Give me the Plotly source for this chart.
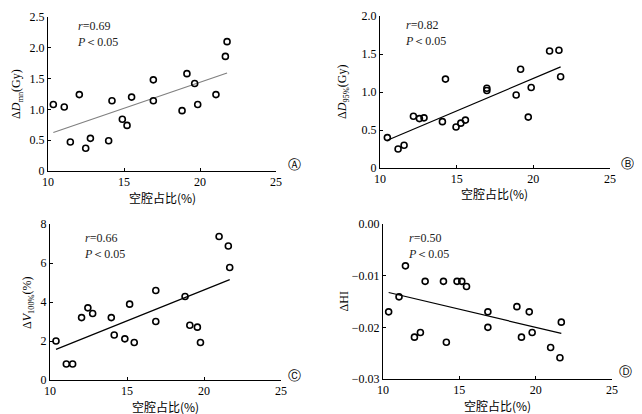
import numpy as np
import plotly.graph_objects as go

# 空腔占比 (%) per patient, read per panel
x_a = [10.35, 11.07, 11.47, 12.06, 12.48, 12.79, 13.99, 14.21, 14.89, 15.20,
       15.50, 16.93, 16.93, 18.82, 19.14, 19.65, 19.85, 21.05, 21.67, 21.78]
y_a = [1.08, 1.04, 0.47, 1.24, 0.37, 0.53, 0.49, 1.14, 0.84, 0.74,
       1.20, 1.48, 1.14, 0.98, 1.58, 1.42, 1.08, 1.24, 1.86, 2.10]

x_b = [10.48, 11.18, 11.57, 12.18, 12.57, 12.87, 14.07, 14.27, 14.96, 15.27,
       15.57, 16.97, 16.97, 18.88, 19.17, 19.67, 19.86, 21.06, 21.67, 21.78]
y_b = [0.40, 0.25, 0.30, 0.68, 0.65, 0.66, 0.61, 1.17, 0.54, 0.59,
       0.63, 1.05, 1.02, 0.96, 1.30, 0.67, 1.06, 1.54, 1.55, 1.20]

x_c = [10.39, 11.06, 11.47, 12.05, 12.46, 12.77, 13.98, 14.17, 14.86, 15.17,
       15.47, 16.87, 16.87, 18.77, 19.08, 19.57, 19.77, 20.98, 21.58, 21.67]
y_c = [2.00, 0.82, 0.82, 3.20, 3.70, 3.41, 3.20, 2.31, 2.11, 3.89,
       1.92, 4.59, 3.00, 4.28, 2.81, 2.71, 1.92, 7.36, 6.87, 5.77]

x_d = [10.37, 11.05, 11.47, 12.06, 12.45, 12.76, 13.96, 14.15, 14.85, 15.16,
       15.47, 16.87, 16.87, 18.77, 19.07, 19.58, 19.77, 20.98, 21.59, 21.68]
y_d = [-0.0170, -0.0141, -0.0081, -0.0219, -0.0210, -0.0111, -0.0111, -0.0229, -0.0111, -0.0111,
       -0.0121, -0.0170, -0.0200, -0.0160, -0.0219, -0.0170, -0.0210, -0.0239, -0.0259, -0.0190]

x_ticks = [10, 15, 20, 25]
yt_a = [0, 0.5, 1.0, 1.5, 2.0, 2.5]
yl_a = ["0", "0.5", "1.0", "1.5", "2.0", "2.5"]
yt_b = [0, 0.5, 1.0, 1.5, 2.0]
yl_b = ["0", "0.5", "1.0", "1.5", "2.0"]
yt_c = [0, 2, 4, 6, 8]
yl_c = ["0", "2", "4", "6", "8"]
yt_d = [-0.03, -0.02, -0.01, 0.0]
yl_d = ["−0.03", "−0.02", "−0.01", "0.00"]

SERIF = "Liberation Serif"
CJK = "Noto Sans CJK SC"
XTITLE = "空腔占比(%)"

W, H = 642, 414
OFF = 8  # page body margin in the browser


def dom_x(left, right):
    return [(left - OFF) / W, (right - OFF) / W]


def dom_y(top, bottom):
    return [1 - (bottom - OFF) / H, 1 - (top - OFF) / H]


panels = [
    dict(x=x_a, y=y_a, yt=yt_a, yl=yl_a, yr=[0, 2.5], dx=dom_x(48, 276), dy=dom_y(17, 171),
         ytitle="Δ<i>D</i><sub>mn</sub>(Gy)", yts=-31, lc="#808080", ax=0.12, ay=1.0,
         lx=1.083, ly=0.04, r="0.69", tag="Ⓐ"),
    dict(x=x_b, y=y_b, yt=yt_b, yl=yl_b, yr=[0, 2.0], dx=dom_x(380, 610), dy=dom_y(16, 168),
         ytitle="Δ<i>D</i><sub>95%</sub>(Gy)", yts=-37, lc="black", ax=0.10, ay=1.0,
         lx=1.074, ly=0.03, r="0.82", tag="Ⓑ"),
    dict(x=x_c, y=y_c, yt=yt_c, yl=yl_c, yr=[0, 8], dx=dom_x(50, 281), dy=dom_y(224, 380),
         ytitle="Δ<i>V</i><sub>100%</sub>(%)", yts=-22, lc="black", ax=0.14, ay=0.97,
         lx=1.06, ly=0.03, r="0.66", tag="Ⓒ"),
    dict(x=x_d, y=y_d, yt=yt_d, yl=yl_d, yr=[-0.03, 0.0], dx=dom_x(383, 612), dy=dom_y(224, 379),
         ytitle="ΔHI", yts=-40, lc="black", ax=0.10, ay=0.97,
         lx=1.057, ly=0.05, r="0.50", tag="Ⓓ"),
]

fig = go.Figure()
layout = dict(width=W, height=H, autosize=False, margin=dict(l=0, r=0, t=0, b=0, pad=0),
              paper_bgcolor="white", plot_bgcolor="white", showlegend=False,
              font=dict(family=SERIF, size=12, color="black"))
annotations = []

for i, p in enumerate(panels, start=1):
    xa = "x" if i == 1 else f"x{i}"
    ya = "y" if i == 1 else f"y{i}"
    xs = np.array(p["x"])
    ys = np.array(p["y"])
    k, b = np.polyfit(xs, ys, 1)
    lx = np.array([xs.min(), xs.max()])
    fig.add_trace(go.Scatter(x=lx, y=k * lx + b, mode="lines",
                             line=dict(color=p["lc"], width=1.2), xaxis=xa, yaxis=ya))
    fig.add_trace(go.Scatter(x=xs, y=ys, mode="markers",
                             marker=dict(symbol="circle-open", size=6, color="black",
                                         line=dict(width=1.6, color="black")),
                             xaxis=xa, yaxis=ya))
    axis_common = dict(showline=True, linecolor="black", linewidth=1, ticks="inside",
                       ticklen=3, tickcolor="black", showgrid=False, zeroline=False,
                       automargin=False, tickfont=dict(family=SERIF, size=12))
    layout["xaxis" if i == 1 else f"xaxis{i}"] = dict(
        axis_common, domain=p["dx"], range=[10, 25], tickvals=x_ticks, anchor=ya)
    layout["yaxis" if i == 1 else f"yaxis{i}"] = dict(
        axis_common, domain=p["dy"], range=p["yr"], tickvals=p["yt"], ticktext=p["yl"], anchor=xa)
    xd = xa + " domain"
    yd = ya + " domain"
    # axis titles
    annotations.append(dict(xref=xd, yref=yd, x=0.5, y=0, yshift=-26, xanchor="center",
                            yanchor="middle", showarrow=False, text=XTITLE,
                            font=dict(family=CJK, size=12)))
    annotations.append(dict(xref=xd, yref=yd, x=0, y=0.5, xshift=p["yts"], xanchor="center",
                            yanchor="middle", textangle=-90, showarrow=False, text=p["ytitle"],
                            font=dict(family=SERIF, size=12)))
    annotations.append(dict(xref=xd, yref=yd, x=p["ax"], y=p["ay"],
                            xanchor="left", yanchor="top", align="left", showarrow=False,
                            text=f"<i>r</i>={p['r']}<br><i>P</i>＜0.05",
                            font=dict(family=SERIF, size=12, color="#222")))
    annotations.append(dict(xref=xd, yref=yd, x=p["lx"], y=p["ly"],
                            xanchor="center", yanchor="middle", showarrow=False,
                            text=p["tag"], font=dict(family="DejaVu Sans", size=13)))

layout["annotations"] = annotations
fig.update_layout(**layout)
fig.write_html("out.html")
